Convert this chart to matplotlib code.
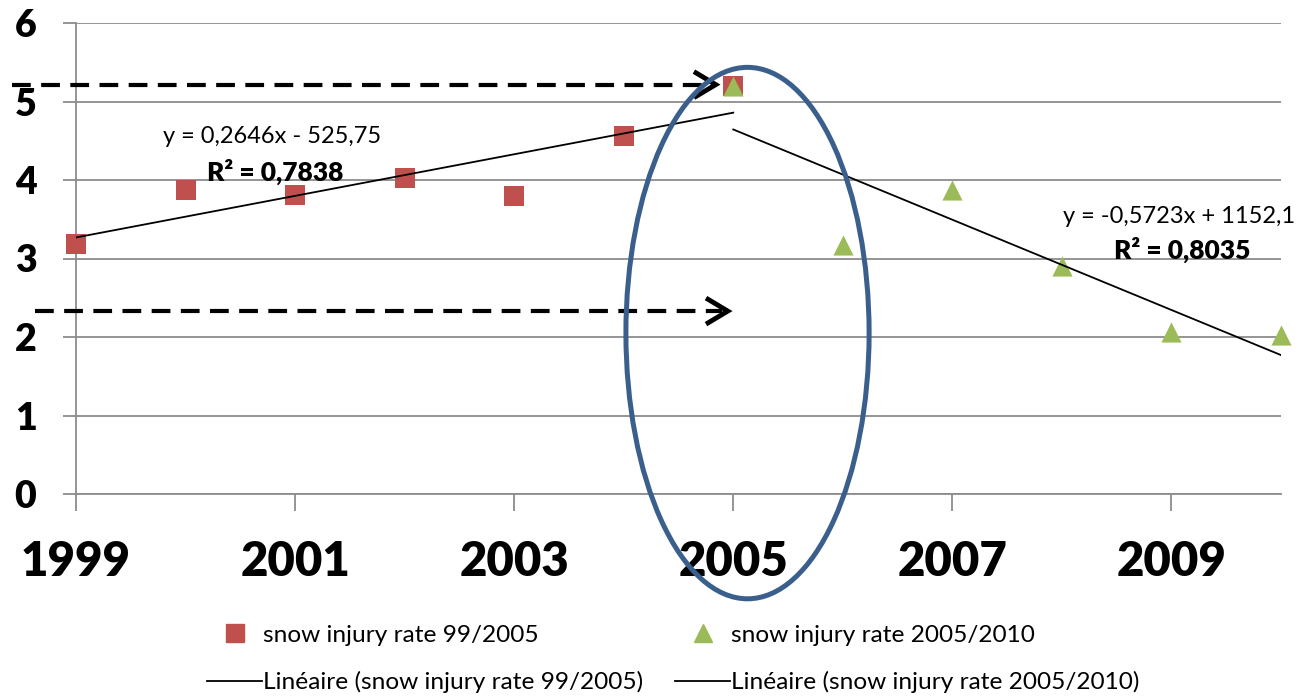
import matplotlib
matplotlib.use("Agg")
import matplotlib.pyplot as plt
from matplotlib.patches import Ellipse
from matplotlib.lines import Line2D
import numpy as np

plt.rcParams['font.family'] = ['Lato', 'DejaVu Sans']

# data
years_a = [1999, 2000, 2001, 2002, 2003, 2004, 2005]
rate_a = [3.18, 3.87, 3.81, 4.03, 3.79, 4.56, 5.20]
years_b = [2005, 2006, 2007, 2008, 2009, 2010]
rate_b = [5.20, 3.17, 3.87, 2.90, 2.07, 2.03]
label_a = 'snow injury rate 99/2005'
label_b = 'snow injury rate 2005/2010'
xticks = [1999, 2001, 2003, 2005, 2007, 2009]
yticks = [0, 1, 2, 3, 4, 5, 6]

red = '#C0504D'
green = '#9BBB59'
grid = '#8C8C8C'

fig = plt.figure(figsize=(13.07, 6.98), dpi=100)
ax = fig.add_axes([76 / 1307, 1 - 494 / 698, (1281 - 76) / 1307, (494 - 23) / 698])

ax.set_xlim(1999, 2010)
ax.set_ylim(0, 6)
ax.set_xticks(xticks)
ax.set_yticks(yticks)
ax.yaxis.grid(True, color=grid, lw=1.3)
ax.set_axisbelow(True)
for s in ['top', 'right']:
    ax.spines[s].set_visible(False)
for s in ['left', 'bottom']:
    ax.spines[s].set_color(grid)
    ax.spines[s].set_linewidth(1.3)
ax.tick_params(axis='x', length=12, width=1.3, color=grid, labelsize=34, pad=21)
ax.tick_params(axis='y', length=9.5, width=1.3, color=grid, labelsize=27, pad=19)
for t in ax.get_xticklabels() + ax.get_yticklabels():
    t.set_fontweight('heavy')

ax.scatter(years_a, rate_a, marker='s', s=14.5 ** 2, color=red, lw=0, zorder=3,
           clip_on=False, label=label_a)
ax.scatter(years_b, rate_b, marker='^', s=14.5 ** 2, color=green, lw=0, zorder=4,
           clip_on=False, label=label_b)

# linear trendlines
pa = np.polyfit(years_a, rate_a, 1)
pb = np.polyfit(years_b, rate_b, 1)
xa = np.array([years_a[0], years_a[-1]])
xb = np.array([years_b[0], years_b[-1]])
ax.plot(xa, np.polyval(pa, xa), color='black', lw=1.3, zorder=5)
ax.plot(xb, np.polyval(pb, xb), color='black', lw=1.3, zorder=5)

ax.text(2000.79, 4.55, 'y = 0,2646x - 525,75', ha='center', va='center', fontsize=17)
ax.text(2000.82, 4.10, 'R² = 0,7838', ha='center', va='center', fontsize=19, fontweight='heavy')
ax.text(2009.07, 3.53, 'y = -0,5723x + 1152,1', ha='center', va='center', fontsize=17)
ax.text(2009.10, 3.11, 'R² = 0,8035', ha='center', va='center', fontsize=19, fontweight='heavy')

# dashed arrows
for x0, x1, y in [(1998.42, 2004.84, 5.215), (1998.63, 2004.95, 2.33)]:
    ax.plot([x0, x1 - 0.05], [y, y], color='black', lw=3, ls=(0, (4.5, 2.5)),
            clip_on=False, zorder=6)
    ax.plot([x1 - 0.18, x1, x1 - 0.18], [y + 0.15, y, y - 0.15], color='black',
            lw=3.5, clip_on=False, zorder=6, solid_joinstyle='miter')

ell = Ellipse((2005.13, 2.05), 2.22, 6.77, fill=False, edgecolor='#3A5F8C', lw=3.6,
              clip_on=False, zorder=7)
ax.add_patch(ell)

h_sq = Line2D([], [], marker='s', ls='none', color=red, markersize=13)
h_tr = Line2D([], [], marker='^', ls='none', color=green, markersize=13)
h_l1 = Line2D([], [], color='black', lw=1.3)
h_l2 = Line2D([], [], color='black', lw=1.3)
fig.legend([h_sq, h_l1, h_tr, h_l2],
           [label_a, 'Linéaire (' + label_a + ')', label_b, 'Linéaire (' + label_b + ')'],
           ncol=2, loc='center left', bbox_to_anchor=(207 / 1307, 1 - 659 / 698),
           frameon=False, fontsize=17.6, handlelength=2.25, handletextpad=0.05,
           columnspacing=1.3, labelspacing=1.05, borderpad=0, borderaxespad=0)

fig.savefig('out.png', dpi=100)
